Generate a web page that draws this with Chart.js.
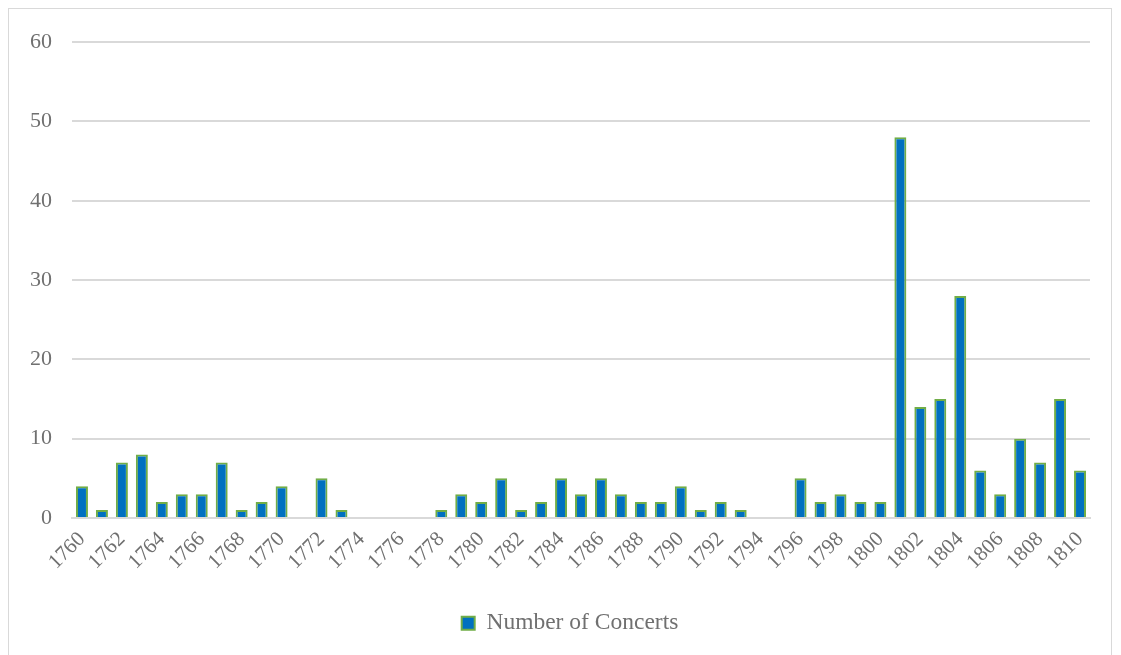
<!DOCTYPE html>
<html>
<head>
<meta charset="utf-8">
<script src="https://cdn.jsdelivr.net/npm/chart.js@4/dist/chart.umd.min.js"></script>
<style>
  body { margin: 0; background: #fff; overflow: hidden; }
  #wrap { position: absolute; left: 8px; top: 8px; width: 1104px; height: 660px; border: 1px solid #d9d9d9; box-sizing: border-box; }
  #inner { position: relative; width: 1102px; height: 645px; }
</style>
</head>
<body>
<div id="wrap"><div id="inner"><canvas id="c"></canvas></div></div>
<script>
const years = [];
for (let y = 1760; y <= 1810; y++) years.push(String(y));

const concerts = [4, 1, 7, 8, 2, 3, 3, 7, 1, 2, 4, 0, 5, 1, 0, 0, 0, 0, 1, 3,
  2, 5, 1, 2, 5, 3, 5, 3, 2, 2, 4, 1, 2, 1, 0, 0, 5, 2, 3, 2,
  2, 48, 14, 15, 28, 6, 3, 10, 7, 15, 6];

const yTicks = [0, 10, 20, 30, 40, 50, 60];

Chart.defaults.font.family = '"Liberation Serif", "Times New Roman", serif';
Chart.defaults.color = '#707070';

// legend sits a little right of centre in the original
const legendShift = {
  id: 'legendShift',
  afterLayout(chart) {
    chart.legend.left += 20;
    chart.legend.right += 20;
  }
};

new Chart(document.getElementById('c'), {
  type: 'bar',
  data: {
    labels: years,
    datasets: [{
      label: 'Number of Concerts',
      data: concerts,
      backgroundColor: '#0070C0',
      borderColor: '#70AD47',
      borderWidth: 2,
      barPercentage: 0.6,
      categoryPercentage: 1.0
    }]
  },
  options: {
    responsive: true,
    maintainAspectRatio: false,
    animation: false,
    layout: { padding: { left: 1, right: 21, top: 15, bottom: 9 } },
    plugins: {
      legend: {
        position: 'bottom',
        labels: { boxWidth: 13, boxHeight: 13, font: { size: 23.5 }, padding: 6 }
      },
      tooltip: { enabled: false }
    },
    scales: {
      x: {
        grid: { display: false, drawTicks: false },
        border: { color: '#d9d9d9', width: 2 },
        afterFit: scale => { scale.height += 22; },
        ticks: {
          autoSkip: false,
          maxRotation: 45,
          minRotation: 45,
          font: { size: 21 },
          padding: 9,
          callback: function (v, i) { return i % 2 === 0 ? this.getLabelForValue(v) : ''; }
        }
      },
      y: {
        min: 0,
        max: 60,
        afterBuildTicks: axis => { axis.ticks = yTicks.map(v => ({ value: v })); },
        grid: { color: '#d9d9d9', lineWidth: 2, drawTicks: false },
        border: { display: false },
        ticks: { font: { size: 22 }, padding: 20 }
      }
    }
  },
  plugins: [legendShift]
});
</script>
</body>
</html>
